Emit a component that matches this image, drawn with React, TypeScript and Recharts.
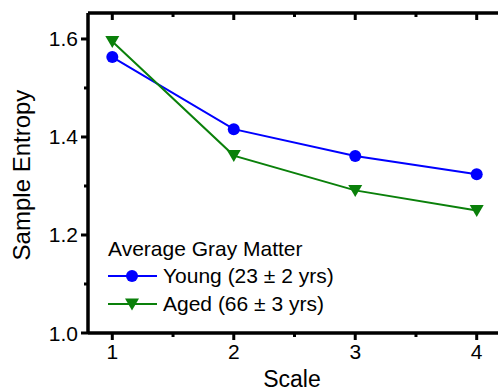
import { LineChart, Line, XAxis, YAxis } from "recharts";

const scales = [1, 2, 3, 4];
const young = [1.563, 1.416, 1.361, 1.324];
const aged = [1.595, 1.362, 1.291, 1.25];
const xTicks = [1, 1.5, 2, 2.5, 3, 3.5, 4];
const yTicks = [1.0, 1.1, 1.2, 1.3, 1.4, 1.5, 1.6];

const data = scales.map((s, i) => ({ scale: s, young: young[i], aged: aged[i] }));

const FONT = "'Liberation Sans', Arial, sans-serif";
const BLUE = "#0000ff";
const GREEN = "#0a800a";

// ticks drawn by hand: major/minor lengths, labels only on majors
function makeTick(side: "bottom" | "left" | "top" | "right") {
  return (props: any) => {
    const { x, y, payload } = props;
    const v = payload.value;
    let major: boolean;
    let label = "";
    if (side === "bottom" || side === "top") {
      major = Number.isInteger(v);
      label = String(v);
    } else {
      major = Math.round(v * 10) % 2 === 0;
      label = v.toFixed(1);
    }
    const len = major ? 7 : 4;
    if (side === "bottom") {
      return (
        <g>
          <line x1={x} x2={x} y1={y} y2={y + len} stroke="#000" strokeWidth={3} />
          {major && (
            <text x={x} y={y + 26} textAnchor="middle" fontSize={21} fontFamily={FONT} fill="#000">
              {label}
            </text>
          )}
        </g>
      );
    }
    if (side === "left") {
      return (
        <g>
          <line x1={x} x2={x - len} y1={y} y2={y} stroke="#000" strokeWidth={3} />
          {major && (
            <text x={x - 10} y={y + 7.5} textAnchor="end" fontSize={21} fontFamily={FONT} fill="#000">
              {label}
            </text>
          )}
        </g>
      );
    }
    if (side === "top") {
      return <line x1={x} x2={x} y1={y} y2={y + len} stroke="#000" strokeWidth={3} />;
    }
    return <line x1={x} x2={x - len} y1={y} y2={y} stroke="#000" strokeWidth={3} />;
  };
}

const Triangle = (props: any) => {
  const { cx, cy } = props;
  if (cx == null || cy == null) return null;
  return <polygon points={`${cx - 7},${cy - 5.5} ${cx + 7},${cy - 5.5} ${cx},${cy + 6.5}`} fill={GREEN} />;
};

const Circle = (props: any) => {
  const { cx, cy } = props;
  if (cx == null || cy == null) return null;
  return <circle cx={cx} cy={cy} r={6} fill={BLUE} />;
};

function LegendBox() {
  const row = (color: string, marker: "circle" | "tri", text: string) => (
    <div style={{ display: "flex", alignItems: "center", height: 28 }}>
      <svg width={52} height={20}>
        <line x1={0} x2={49} y1={10} y2={10} stroke={color} strokeWidth={2} />
        {marker === "circle" ? (
          <circle cx={24} cy={10} r={6} fill={color} />
        ) : (
          <polygon points="17,4.5 31,4.5 24,16.5" fill={color} />
        )}
      </svg>
      <span style={{ marginLeft: 3 }}>{text}</span>
    </div>
  );
  return (
    <div style={{ fontFamily: FONT, fontSize: 21, color: "#000", lineHeight: "24px" }}>
      <div style={{ marginBottom: 1 }}>Average Gray Matter</div>
      {row(BLUE, "circle", "Young (23 ± 2 yrs)")}
      {row(GREEN, "tri", "Aged (66 ± 3 yrs)")}
    </div>
  );
}

export default function App() {
  return (
    <div style={{ position: "fixed", left: 0, top: 0, width: 498, height: 391, overflow: "hidden", background: "#fff" }}>
      <LineChart width={514} height={391} data={data} margin={{ top: 12, right: 12, left: 28, bottom: 0 }}>
        <XAxis
          xAxisId="b"
          dataKey="scale"
          type="number"
          domain={[0.8, 4.2]}
          ticks={xTicks}
          interval={0}
          tickSize={0}
          tickMargin={0}
          tickLine={false}
          tick={makeTick("bottom")}
          axisLine={{ stroke: "#000", strokeWidth: 3.5 }}
          height={58}
        />
        <XAxis
          xAxisId="t"
          orientation="top"
          dataKey="scale"
          type="number"
          domain={[0.8, 4.2]}
          ticks={xTicks}
          interval={0}
          tickSize={0}
          tickMargin={0}
          tickLine={false}
          tick={makeTick("top")}
          axisLine={{ stroke: "#000", strokeWidth: 3.5 }}
          height={1}
        />
        <YAxis
          yAxisId="l"
          type="number"
          domain={[1.0, 1.653]}
          ticks={yTicks}
          interval={0}
          tickSize={0}
          tickMargin={0}
          tickLine={false}
          tick={makeTick("left")}
          axisLine={{ stroke: "#000", strokeWidth: 3.5 }}
          width={60}
        />
        <YAxis
          yAxisId="r"
          orientation="right"
          type="number"
          domain={[1.0, 1.653]}
          ticks={yTicks}
          interval={0}
          tickSize={0}
          tickMargin={0}
          tickLine={false}
          tick={makeTick("right")}
          axisLine={{ stroke: "#000", strokeWidth: 3.5 }}
          width={1}
        />
        <Line
          xAxisId="b"
          yAxisId="l"
          dataKey="young"
          stroke={BLUE}
          strokeWidth={2}
          dot={<Circle />}
          isAnimationActive={false}
        />
        <Line
          xAxisId="b"
          yAxisId="l"
          dataKey="aged"
          stroke={GREEN}
          strokeWidth={2}
          dot={<Triangle />}
          isAnimationActive={false}
        />
      </LineChart>
      <div style={{ position: "absolute", left: 108, top: 237 }}>
        <LegendBox />
      </div>
      <div
        style={{
          position: "absolute",
          left: 22,
          top: 175,
          transform: "translate(-50%, -50%) rotate(-90deg)",
          fontFamily: FONT,
          fontSize: 24,
          whiteSpace: "nowrap",
        }}
      >
        Sample Entropy
      </div>
      <div
        style={{
          position: "absolute",
          left: 292,
          top: 366,
          transform: "translateX(-50%)",
          fontFamily: FONT,
          fontSize: 23,
          whiteSpace: "nowrap",
        }}
      >
        Scale
      </div>
    </div>
  );
}
